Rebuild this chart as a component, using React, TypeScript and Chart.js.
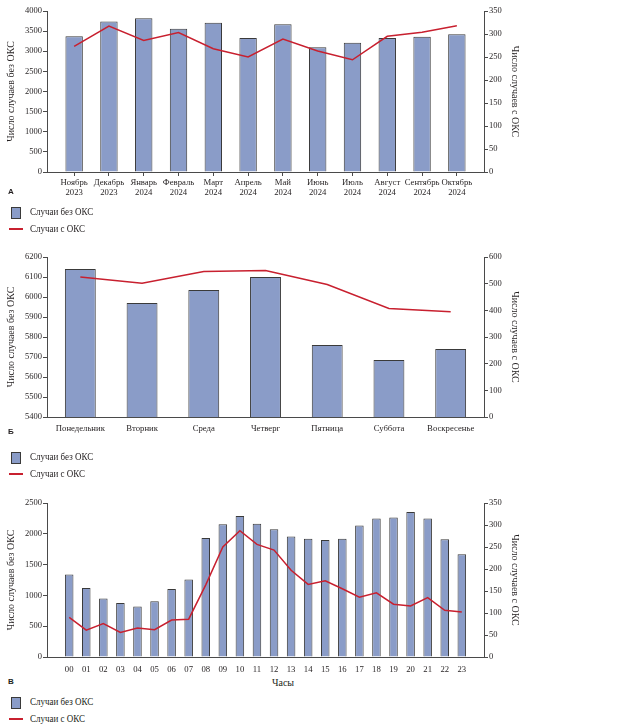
import React, { useEffect, useRef } from 'react';
import Chart from 'chart.js/auto';

// A: по месяцам
const monthLabels = [
  ['Ноябрь', '2023'], ['Декабрь', '2023'], ['Январь', '2024'], ['Февраль', '2024'],
  ['Март', '2024'], ['Апрель', '2024'], ['Май', '2024'], ['Июнь', '2024'],
  ['Июль', '2024'], ['Август', '2024'], ['Сентябрь', '2024'], ['Октябрь', '2024'],
];
const monthNoAcs = [3370, 3740, 3820, 3560, 3710, 3330, 3670, 3100, 3210, 3330, 3360, 3420];
const monthAcs = [273, 317, 286, 303, 268, 250, 289, 263, 244, 295, 304, 318];

// Б: по дням недели
const dayLabels = ['Понедельник', 'Вторник', 'Среда', 'Четверг', 'Пятница', 'Суббота', 'Воскресенье'];
const dayNoAcs = [6140, 5970, 6035, 6100, 5760, 5685, 5740];
const dayAcs = [525, 502, 546, 549, 497, 407, 395];

// В: по часам
const hourLabels = ['00', '01', '02', '03', '04', '05', '06', '07', '08', '09', '10', '11',
  '12', '13', '14', '15', '16', '17', '18', '19', '20', '21', '22', '23'];
const hourNoAcs = [1340, 1120, 950, 875, 820, 905, 1105, 1260, 1930, 2155, 2290, 2165,
  2075, 1955, 1920, 1900, 1920, 2135, 2250, 2265, 2355, 2250, 1910, 1670];
const hourAcs = [90, 61, 76, 56, 66, 62, 84, 86, 164, 250, 287, 256,
  243, 197, 165, 173, 155, 136, 146, 120, 116, 135, 106, 102];

const SERIF = '"Liberation Serif", "Times New Roman", serif';
const TEXT = '#231f20';
const AXIS = '#4a4a4a';
const BAR = '#8a9cc8';
const LINE = '#c8202f';

interface Range { min: number; max: number; step: number }

interface ComboProps {
  labels: (string | string[])[];
  bars: number[];
  line: number[];
  left: Range;
  right: Range;
  height: number;
  padTop: number;
  plotHeight: number;
  xTicks: boolean;
  xPad: number;
  sideGap: number; // extra empty space at both ends of the category axis, in categories
}

function ComboChart({ labels, bars, line, left, right, height, padTop, plotHeight, xTicks, xPad, sideGap }: ComboProps) {
  const canvasRef = useRef<HTMLCanvasElement>(null);

  useEffect(() => {
    if (!canvasRef.current) return;
    const xHeight = height - padTop - plotHeight;
    const tickFont = { family: SERIF, size: 8.5, lineHeight: 1.1 };
    const titleFont = { family: SERIF, size: 10 };
    const plain = (v: any) => String(v);
    const chart = new Chart(canvasRef.current, {
      type: 'bar',
      data: {
        labels,
        datasets: [
          {
            type: 'line',
            label: 'Случаи с ОКС',
            data: line,
            yAxisID: 'y1',
            borderColor: LINE,
            borderWidth: 1.5,
            pointRadius: 0,
            tension: 0,
            order: 0,
          },
          {
            type: 'bar',
            label: 'Случаи без ОКС',
            data: bars,
            yAxisID: 'y',
            backgroundColor: BAR,
            borderColor: '#3a3a3a',
            borderWidth: 1,
            barPercentage: 0.5,
            categoryPercentage: 1,
            order: 1,
          },
        ],
      },
      options: {
        animation: false,
        responsive: true,
        maintainAspectRatio: false,
        layout: { padding: { top: padTop, right: 93, left: 0, bottom: 0 } },
        plugins: { legend: { display: false }, tooltip: { enabled: false } },
        scales: {
          x: {
            offset: true,
            grid: { display: xTicks, drawOnChartArea: false, offset: false, tickLength: 4, color: AXIS },
            border: { display: true, color: AXIS },
            ticks: { font: { ...tickFont, size: 8.7 }, color: TEXT, maxRotation: 0, autoSkip: false, padding: xPad },
            afterBuildTicks: (s: any) => {
              s._startValue -= sideGap;
              s._valueRange += 2 * sideGap;
            },
            afterFit: (s: any) => { s.height = xHeight; },
          },
          y: {
            position: 'left',
            min: left.min,
            max: left.max,
            grid: { drawOnChartArea: false, tickLength: 4, color: AXIS },
            border: { display: true, color: AXIS },
            ticks: { stepSize: left.step, font: tickFont, color: TEXT, padding: 1, callback: plain },
            title: { display: true, text: 'Число случаев без ОКС', font: titleFont, color: TEXT, padding: { top: 5, bottom: 0 } },
            afterFit: (s: any) => { s.width = 47; },
          },
          y1: {
            position: 'right',
            min: right.min,
            max: right.max,
            grid: { drawOnChartArea: false, tickLength: 4, color: AXIS },
            border: { display: true, color: AXIS },
            ticks: { stepSize: right.step, font: tickFont, color: TEXT, padding: 1, callback: plain },
            title: { display: true, text: 'Число случаев с ОКС', font: titleFont, color: TEXT, padding: { top: 5, bottom: 0 } },
            afterFit: (s: any) => { s.width = 42; },
          },
        },
      } as any,
    });
    return () => chart.destroy();
  }, [labels, bars, line, left, right, height, padTop, plotHeight, xTicks, xPad, sideGap]);

  return (
    <div style={{ position: 'relative', width: 619, height }}>
      <canvas ref={canvasRef}></canvas>
    </div>
  );
}

function Legend({ top }: { top: number }) {
  const txt: React.CSSProperties = {
    position: 'absolute', left: 30, fontFamily: SERIF, fontSize: 10, color: TEXT, lineHeight: '12px',
    whiteSpace: 'nowrap', transform: 'scaleX(0.9)', transformOrigin: 'left center',
  };
  return (
    <>
      <div style={{ position: 'absolute', left: 11, top: top - 5, width: 8, height: 10, background: BAR, border: '1px solid #3a3a3a' }} />
      <div style={{ ...txt, top: top - 6 }}>Случаи без ОКС</div>
      <div style={{ position: 'absolute', left: 9, top: top + 16, width: 14, height: 2, background: LINE }} />
      <div style={{ ...txt, top: top + 11 }}>Случаи с ОКС</div>
    </>
  );
}

function Letter({ top, text }: { top: number; text: string }) {
  return (
    <div style={{ position: 'absolute', left: 8, top, fontFamily: '"Liberation Sans", Arial, sans-serif', fontWeight: 'bold', fontSize: 8, color: TEXT }}>
      {text}
    </div>
  );
}

const rangeA1 = { min: 0, max: 4000, step: 500 };
const rangeA2 = { min: 0, max: 350, step: 50 };
const rangeB1 = { min: 5400, max: 6200, step: 100 };
const rangeB2 = { min: 0, max: 600, step: 100 };
const rangeC1 = { min: 0, max: 2500, step: 500 };
const rangeC2 = { min: 0, max: 350, step: 50 };

export default function App() {
  return (
    <div style={{ position: 'absolute', top: 0, left: 0, width: 619, height: 726, background: '#fff' }}>
      <div style={{ position: 'absolute', top: 0, left: 0 }}>
        <ComboChart labels={monthLabels} bars={monthNoAcs} line={monthAcs} left={rangeA1} right={rangeA2}
          height={200} padTop={11} plotHeight={161} xTicks={true} xPad={2} sideGap={0.28} />
      </div>
      <Letter top={187} text="А" />
      <Legend top={212} />

      <div style={{ position: 'absolute', top: 240, left: 0 }}>
        <ComboChart labels={dayLabels} bars={dayNoAcs} line={dayAcs} left={rangeB1} right={rangeB2}
          height={197} padTop={17} plotHeight={160} xTicks={false} xPad={3} sideGap={0.04} />
      </div>
      <Letter top={427} text="Б" />
      <Legend top={457} />

      <div style={{ position: 'absolute', top: 480, left: 0 }}>
        <ComboChart labels={hourLabels} bars={hourNoAcs} line={hourAcs} left={rangeC1} right={rangeC2}
          height={197} padTop={23} plotHeight={154} xTicks={false} xPad={4} sideGap={0.8} />
      </div>
      <Letter top={677} text="В" />
      <div style={{ position: 'absolute', left: 283, top: 677, transform: 'translateX(-50%)', fontFamily: SERIF, fontSize: 10, color: TEXT }}>Часы</div>
      <Legend top={702} />
    </div>
  );
}
